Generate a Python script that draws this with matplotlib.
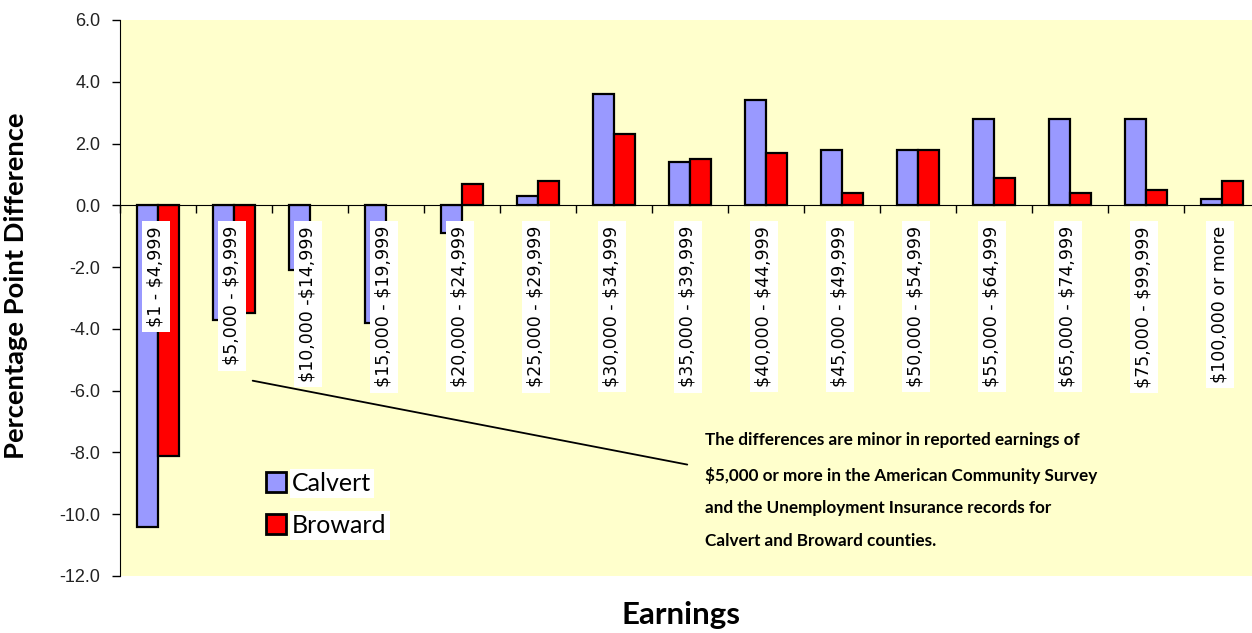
import numpy as np
import matplotlib
matplotlib.use("Agg")
import matplotlib.pyplot as plt

plt.rcParams["text.parse_math"] = False

categories = ["$1 - $4,999", "$5,000 - $9,999", "$10,000 -$14,999", "$15,000 - $19,999",
              "$20,000 - $24,999", "$25,000 - $29,999", "$30,000 - $34,999", "$35,000 - $39,999",
              "$40,000 - $44,999", "$45,000 - $49,999", "$50,000 - $54,999", "$55,000 - $64,999",
              "$65,000 - $74,999", "$75,000 - $99,999", "$100,000 or more"]
calvert = [-10.4, -3.7, -2.1, -3.8, -0.9, 0.3, 3.6, 1.4, 3.4, 1.8, 1.8, 2.8, 2.8, 2.8, 0.2]
broward = [-8.1, -3.5, 0.0, 0.0, 0.7, 0.8, 2.3, 1.5, 1.7, 0.4, 1.8, 0.9, 0.4, 0.5, 0.8]
yticks = np.arange(-12, 6.1, 2)

note = ("The differences are minor in reported earnings of\n"
        "$5,000 or more in the American Community Survey\n"
        "and the Unemployment Insurance records for\n"
        "Calvert and Broward counties.")

W, H = 1252, 633
fig = plt.figure(figsize=(W / 100, H / 100), dpi=100)
# axes runs past the right edge of the picture, like the original
ax = fig.add_axes([120 / W, (H - 576) / H, 1140 / W, 556 / H])
ax.set_facecolor("#FFFFCC")

x = np.arange(len(categories))
w = 0.277
bars_c = ax.bar(x - w / 2, calvert, w, color="#9999FF", edgecolor="black", linewidth=1.6,
                label="Calvert", zorder=2)
bars_b = ax.bar(x + w / 2, broward, w, color="#FF0000", edgecolor="black", linewidth=1.6,
                label="Broward", zorder=2)
# zero-height bars show nothing in the original
for b in list(bars_c) + list(bars_b):
    if b.get_height() == 0:
        b.set_linewidth(0)

ax.set_xlim(-0.5, len(categories) - 0.5)
ax.set_ylim(-12, 6)
ax.set_yticks(yticks)
ax.set_yticklabels([f"{v:.1f}" for v in yticks], fontsize=13, family="Liberation Sans",
                   color="#222222")
ax.tick_params(axis="y", direction="out", length=6, width=1, pad=8)

for s in ["top", "right"]:
    ax.spines[s].set_visible(False)
ax.spines["bottom"].set_position(("data", 0))
ax.spines["bottom"].set_zorder(3)
ax.set_xticks(np.arange(-0.5, len(categories), 1))
ax.set_xticklabels([])
ax.tick_params(axis="x", direction="out", length=6, width=1)

for i, lab in enumerate(categories):
    ax.text(i - 0.03, -0.67, lab, rotation=90, ha="center", va="top", fontsize=12.5,
            family="DejaVu Sans", zorder=4,
            bbox=dict(boxstyle="square,pad=0.3", facecolor="white", edgecolor="none"))

ax.set_ylabel("Percentage Point Difference", family="Lato", fontweight="bold", fontsize=19.7)
ax.yaxis.set_label_coords(-92 / 1140, (576 - 286) / 556)
fig.text(681 / W, 1 - 615 / H, "Earnings", family="Lato", fontweight="bold", fontsize=22.5,
         ha="center", va="center")

leg = ax.legend(loc="upper left", bbox_to_anchor=(146 / 1140, (576 - 472) / 556), frameon=False,
                prop=dict(family="Lato", size=18), handlelength=0.8, handleheight=0.85,
                handletextpad=0.25, labelspacing=0.75, borderaxespad=0, borderpad=0)
for t in leg.get_texts():
    t.set_bbox(dict(facecolor="white", edgecolor="none", pad=2))
for p in leg.get_patches():
    p.set_linewidth(2)

ax.annotate("", xy=(1.21, -5.66), xytext=(7.0, -8.41),
            arrowprops=dict(arrowstyle="-", color="black", linewidth=1.3))
ax.text(7.2, -7.35, note, family="Lato", fontweight="bold", fontsize=12.3, ha="left", va="top",
        linespacing=2.3)

fig.savefig("out.png", dpi=100)
